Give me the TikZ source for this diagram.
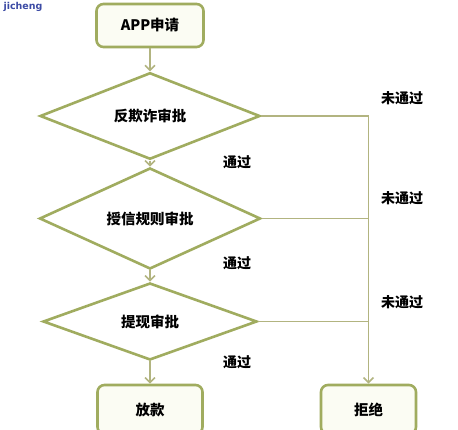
\documentclass[tikz,border=0pt]{standalone}
\usepackage{fontspec}
\setmainfont{Noto Sans CJK SC}
\newfontfamily\wmfont{DejaVu Sans}
\usetikzlibrary{shapes.geometric,arrows.meta}
\definecolor{bordc}{RGB}{160,172,95}
\definecolor{linec}{RGB}{178,180,128}
\definecolor{fillc}{RGB}{251,252,243}
\definecolor{wmc}{RGB}{60,75,165}
\tikzset{
  boxst/.style={draw=bordc, line width=2.6pt, fill=fillc, rounded corners=7pt, inner sep=0pt, font=\fontsize{14.5}{16}\selectfont\bfseries},
  dia/.style={diamond, draw=bordc, line width=2.6pt, fill=white, inner sep=0pt, font=\fontsize{14.5}{16}\selectfont\bfseries},
  conn/.style={draw=linec, line width=1.8pt},
  arr/.style={conn, -{Straight Barb[length=5pt,width=10pt,line width=1.6pt]}},
  lab/.style={font=\fontsize{14}{16}\selectfont\bfseries, inner sep=0pt}
}
\begin{document}
\begin{tikzpicture}[x=1pt,y=-1pt]
\useasboundingbox (0,0) rectangle (458,430);
\fill[white] (0,0) rectangle (458,430);
\node[font=\wmfont\bfseries\fontsize{9.5}{11}\selectfont, text=wmc, inner sep=0pt] (wm) at (23,7) {jicheng};
\node[boxst, minimum width=107pt, minimum height=43pt] (app) at (150,25.5) {APP申请};
\node[dia, minimum width=220pt, minimum height=74pt] (d1) at (150,116) {反欺诈审批};
\node[dia, minimum width=221pt, minimum height=77pt] (d2) at (150,218.5) {授信规则审批};
\node[dia, minimum width=214pt, minimum height=77pt] (d3) at (150,321.5) {提现审批};
\node[boxst, minimum width=105pt, minimum height=49pt] (fk) at (150,409.5) {放款};
\node[boxst, minimum width=95pt, minimum height=49pt] (rej) at (368.5,409.5) {拒绝};
\draw[arr] (app.south) -- (d1.north);
\draw[arr] (d1.south) -- (d2.north);
\draw[arr] (d2.south) -- (d3.north);
\draw[arr] (d3.south) -- (fk.north);
\draw[arr] (d1.east) -| (rej.north);
\draw[conn] (d2.east) -- (d2.east -| rej.north);
\draw[conn] (d3.east) -- (d3.east -| rej.north);
\node[lab] (p1) at (237,162) {通过};
\node[lab] (p2) at (237,263) {通过};
\node[lab] (p3) at (237,362) {通过};
\node[lab] (n1) at (402,98) {未通过};
\node[lab] (n2) at (402,198) {未通过};
\node[lab] (n3) at (402,302) {未通过};
\end{tikzpicture}
\end{document}
